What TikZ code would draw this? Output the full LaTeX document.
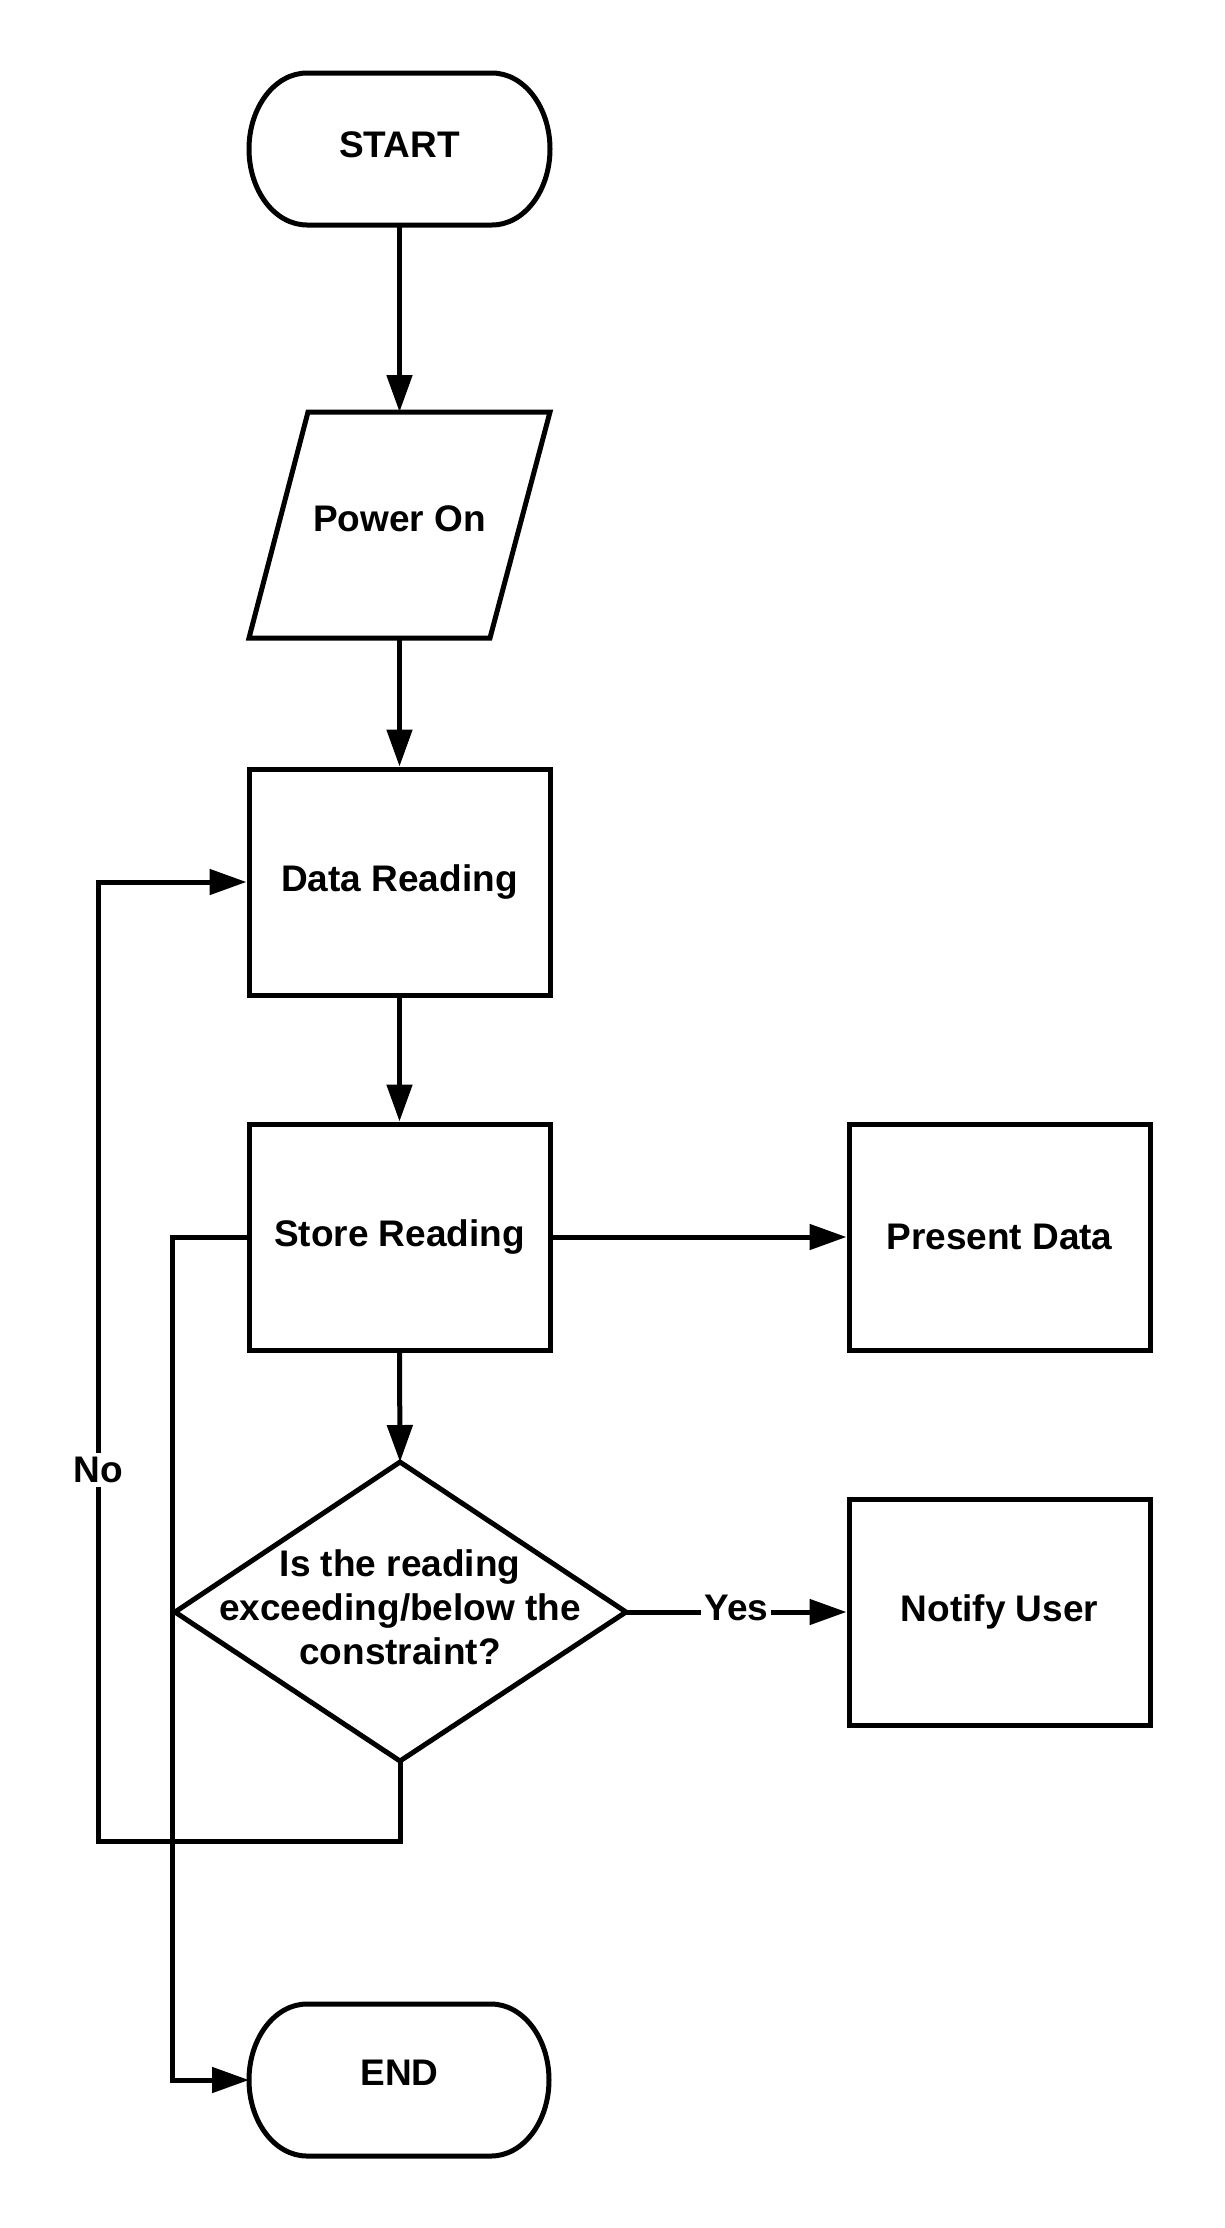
\documentclass[tikz,border=0pt]{standalone}
\usepackage{fontspec}
\setmainfont{Liberation Sans}
\usetikzlibrary{arrows.meta,shapes.geometric}
\begin{document}
\begin{tikzpicture}[x=1pt,y=-1pt,
  shp/.style={line width=5pt,line join=miter},
  txt/.style={font=\fontsize{37}{44}\selectfont\bfseries,align=center,inner sep=0pt},
  boxnode/.style={txt,draw,shp,minimum width=301pt,minimum height=226pt},
  conn/.style={line width=5pt,-{Triangle[length=37pt,width=25pt]}},
  lbl/.style={txt,fill=white,inner xsep=3pt,inner ysep=4pt}]
\useasboundingbox[fill=white] (0,0) rectangle (1224,2228);
% START terminal
\draw[shp] (307,73) -- (492,73)
  arc[start angle=90,end angle=-90,x radius=58pt,y radius=76pt]
  -- (307,225)
  arc[start angle=270,end angle=90,x radius=58pt,y radius=76pt] -- cycle;
\node[txt] (start) at (399.5,145) {START};
\coordinate (startbot) at (399.5,225);
% Power On parallelogram
\draw[shp] (308,412) -- (550,412) -- (490,638) -- (249,638) -- cycle;
\node[txt] (pw) at (399.5,519) {Power On};
\coordinate (pwtop) at (399.5,412);
\coordinate (pwbot) at (399.5,638);
% boxes
\node[boxnode] (data) at (399.5,882) {Data Reading};
\node[boxnode] (store) at (399.5,1237) {Store Reading};
\node[boxnode] (present) at (999.5,1237) {Present Data};
\node[boxnode] (notify) at (999.5,1612) {Notify User};
% decision
\draw[shp] (400,1462) -- (626,1612) -- (400,1761) -- (175,1612) -- cycle;
\node[txt] (dec) at (400,1607) {Is the reading\\exceeding/below the\\constraint?};
\coordinate (dtop) at (400,1462);
\coordinate (dbot) at (400,1761);
\coordinate (dright) at (626,1612);
% END terminal
\draw[shp] (307,2004) -- (491,2004)
  arc[start angle=90,end angle=-90,x radius=58pt,y radius=76pt]
  -- (307,2156)
  arc[start angle=270,end angle=90,x radius=58pt,y radius=76pt] -- cycle;
\node[txt] (end) at (399.5,2073) {END};
\coordinate (endw) at (249,2080);
% connectors
\draw[conn] (startbot) -- (pwtop);
\draw[conn] (pwbot) -- (data.north);
\draw[conn] (data.south) -- (store.north);
\draw[conn] (store.south) -- (dtop);
\draw[conn] (store.east) -- (present.west);
\draw[conn] (dright) -- node[lbl,pos=0.5,yshift=4pt] {Yes} (notify.west);
\draw[conn] (dbot) -- (400,1841) -- (98,1841) -- node[lbl,pos=0.387] {No} (98,882) -- (data.west);
\draw[conn] (store.west) -- (172,1237) -- (172,2080) -- (endw);
\end{tikzpicture}
\end{document}
